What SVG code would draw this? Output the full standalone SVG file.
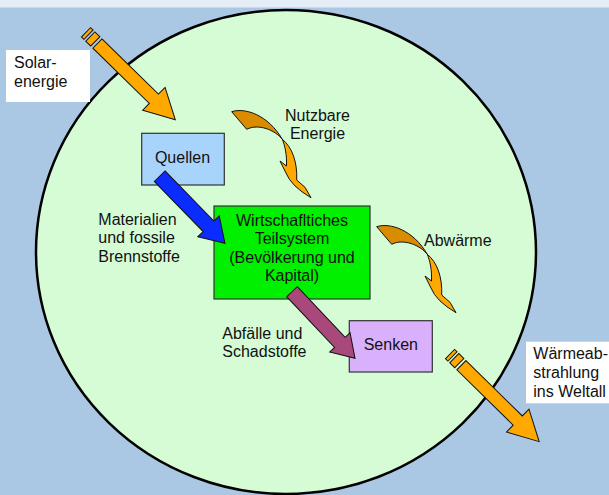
<svg xmlns="http://www.w3.org/2000/svg" width="609" height="495" viewBox="0 0 609 495">
<style>
text{font-family:"Liberation Sans",Arial,sans-serif;font-size:16px;fill:#111}
.mid{text-anchor:middle}
.box{stroke:#333;stroke-width:1.2}
.orange{fill:#ffa800;stroke:#111;stroke-width:1}
.dark{fill:#d98c00;stroke:#111;stroke-width:1}
.blue{fill:#0a2cff;stroke:#111;stroke-width:1}
.purple{fill:#a9487a;stroke:#111;stroke-width:1}
</style>
<defs>
<g id="straightArrow">
<path class="orange" d="M0,-6.5H3.5V6.5H0Z"/>
<path class="orange" d="M6,-6.5H13V6.5H6Z"/>
<path class="orange" d="M16,-6.5H95V-16L125,0L95,16V6.5H16Z"/>
</g>
<g id="curvedArrow">
<path class="dark" d="M231.7,111.7C245,107.3 268.3,115 282.3,139.3C275,130 258.3,123.3 246.7,129.3Z"/>
<path class="orange" d="M282.3,139.3C292,147 297.5,162 296.7,180L305,187.3L311,197.7Q291,186 286,173L280,161L286.5,166C287,155 285,146 282.3,139.3Z"/>
</g>
</defs>
<rect x="0" y="0" width="609" height="495" fill="#aac8e4"/>
<rect x="0" y="0" width="609" height="7.5" fill="#e5edf6"/>
<g id="system">
<ellipse cx="286" cy="252" rx="250" ry="242" fill="#d5fcd5" stroke="#000" stroke-width="2.5"/>
</g>
<g id="solar-label">
<rect x="6" y="50" width="84" height="52" fill="#fff"/>
<text x="14" y="68">Solar-</text>
<text x="14" y="87">energie</text>
</g>
<g id="quellen">
<rect class="box" x="141.7" y="133.3" width="82.6" height="51.7" fill="#a8d4fc"/>
<text class="mid" x="182.5" y="162.7">Quellen</text>
</g>
<g id="wirtschaft">
<rect class="box" x="214" y="206" width="156" height="93" fill="#00f000"/>
<text class="mid" x="292" y="226">Wirtschafltiches</text>
<text class="mid" x="292" y="244.3">Teilsystem</text>
<text class="mid" x="292" y="262.5">(Bevölkerung und</text>
<text class="mid" x="292" y="280.7">Kapital)</text>
</g>
<g id="senken">
<rect class="box" x="349.3" y="320.7" width="83" height="51.3" fill="#d9b0fc"/>
<text class="mid" x="390.8" y="350">Senken</text>
</g>
<g id="waerme-label">
<rect x="526" y="341.7" width="83" height="61.6" fill="#fff"/>
<text x="533.3" y="359.3">Wärmeab-</text>
<text x="533.3" y="378">strahlung</text>
<text x="533.3" y="396.7">ins Weltall</text>
</g>
<g id="connectors">
<use href="#straightArrow" transform="translate(86,32.3) rotate(44.4)"/>
<use href="#straightArrow" transform="translate(450,354) rotate(44.5)"/>
<path class="blue" d="M0,-7.5H70V-15L93.6,0L70,15V7.5H0Z" transform="translate(159.7,176.2) rotate(45.8)"/>
<path class="purple" d="M0,-7.3H69.7V-14L91.7,0L69.7,14V7.3H0Z" transform="translate(292,291.7) rotate(46.6)"/>
<use href="#curvedArrow"/>
<use href="#curvedArrow" transform="translate(145,115)"/>
</g>
<g id="labels">
<text class="mid" x="317.5" y="120.5">Nutzbare</text>
<text class="mid" x="317.5" y="139">Energie</text>
<text x="98.3" y="225">Materialien</text>
<text x="98.3" y="243.3">und fossile</text>
<text x="98.3" y="261.7">Brennstoffe</text>
<text x="424" y="246">Abwärme</text>
<text x="222.3" y="339">Abfälle und</text>
<text x="222.3" y="357.3">Schadstoffe</text>
</g>
</svg>
